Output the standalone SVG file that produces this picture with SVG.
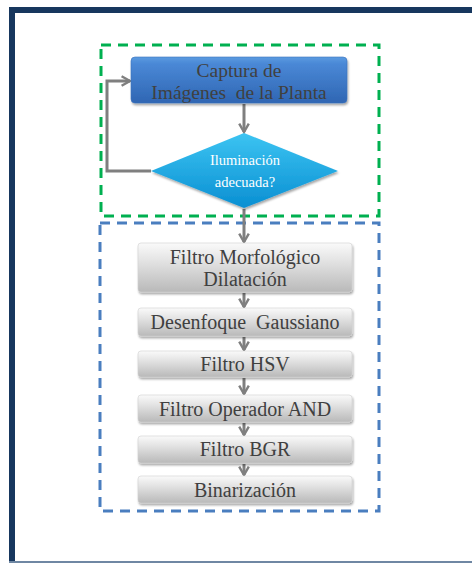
<svg xmlns="http://www.w3.org/2000/svg" width="472" height="563" viewBox="0 0 472 563">
  <defs>
    <linearGradient id="gBlue" x1="0" y1="0" x2="0" y2="1">
      <stop offset="0" stop-color="#5b9be0"/>
      <stop offset="0.15" stop-color="#4a88d6"/>
      <stop offset="1" stop-color="#2f66b3"/>
    </linearGradient>
    <linearGradient id="gCyan" x1="0" y1="0" x2="0" y2="1">
      <stop offset="0" stop-color="#3cc4f2"/>
      <stop offset="1" stop-color="#0a8fd2"/>
    </linearGradient>
    <linearGradient id="gGray" x1="0" y1="0" x2="0" y2="1">
      <stop offset="0" stop-color="#fafafa"/>
      <stop offset="0.35" stop-color="#e4e4e4"/>
      <stop offset="1" stop-color="#b9b9b9"/>
    </linearGradient>
    <filter id="shadow" x="-10%" y="-20%" width="120%" height="150%">
      <feDropShadow dx="1" dy="2" stdDeviation="1.2" flood-color="#000" flood-opacity="0.35"/>
    </filter>
    <marker id="arrow" viewBox="0 0 10 10" refX="8" refY="5" markerWidth="4" markerHeight="4" orient="auto" markerUnits="strokeWidth">
      <path d="M1,1 L8,5 L1,9" fill="none" stroke="#7f7f7f" stroke-width="2"/>
    </marker>
  </defs>
  <style>
    .green { fill: none; stroke: #00b050; stroke-width: 3; stroke-dasharray: 10 7; }
    .blue { fill: none; stroke: #4a7ebf; stroke-width: 3; stroke-dasharray: 10 7; }
    .conn { fill: none; stroke: #7f7f7f; stroke-width: 3; marker-end: url(#arrow); }
    .box { fill: url(#gGray); stroke: #d0d0d0; stroke-width: 0.6; filter: url(#shadow); }
  </style>

  <!-- page frame -->
  <rect x="0" y="0" width="472" height="563" fill="#ffffff"/>
  <rect x="9" y="7" width="463" height="6" fill="#17375e"/>
  <rect x="9" y="7" width="6" height="556" fill="#17375e"/>
  <rect x="9" y="561" width="463" height="2" fill="#6f87a3"/>

  <!-- stage groupings -->
  <rect class="green" x="101" y="45" width="278" height="171"/>
  <rect class="blue" x="100" y="223" width="279" height="288"/>

  <!-- connectors -->
  <g id="connectors">
    <line class="conn" x1="244" y1="104" x2="244" y2="132"/>
    <polyline class="conn" points="151,171 107,171 107,81 130,81"/>
    <line class="conn" x1="244" y1="209" x2="244" y2="242"/>
    <line class="conn" x1="244" y1="293" x2="244" y2="307"/>
    <line class="conn" x1="244" y1="337" x2="244" y2="350"/>
    <line class="conn" x1="244" y1="378" x2="244" y2="394"/>
    <line class="conn" x1="244" y1="423" x2="244" y2="435"/>
    <line class="conn" x1="244" y1="464" x2="244" y2="475"/>
  </g>

  <g id="captura" font-family="Liberation Serif" font-size="19.5" fill="#404040" text-anchor="middle">
    <rect x="131" y="57" width="216" height="46" rx="4" fill="url(#gBlue)" stroke="#3d72bd" stroke-width="0.6" filter="url(#shadow)"/>
    <text x="239" y="77">Captura de</text>
    <text x="239" y="99" xml:space="preserve">Imágenes  de la Planta</text>
  </g>

  <g id="iluminacion" font-family="Liberation Serif" font-size="14.5" fill="#ffffff" text-anchor="middle">
    <polygon points="244,133 338,171 244,208 151,171" fill="url(#gCyan)" filter="url(#shadow)"/>
    <text x="245" y="165">Iluminación</text>
    <text x="245" y="187">adecuada?</text>
  </g>

  <g id="morfologico" font-family="Liberation Serif" font-size="20" fill="#404040" text-anchor="middle">
    <rect class="box" x="138" y="243" width="214" height="49" rx="3"/>
    <text x="245" y="264">Filtro Morfológico</text>
    <text x="245" y="286">Dilatación</text>
  </g>

  <g id="gaussiano" font-family="Liberation Serif" font-size="20" fill="#404040" text-anchor="middle">
    <rect class="box" x="138" y="308" width="214" height="28" rx="3"/>
    <text x="245" y="329" xml:space="preserve">Desenfoque  Gaussiano</text>
  </g>

  <g id="hsv" font-family="Liberation Serif" font-size="20" fill="#404040" text-anchor="middle">
    <rect class="box" x="138" y="351" width="214" height="26" rx="3"/>
    <text x="245" y="371">Filtro HSV</text>
  </g>

  <g id="and" font-family="Liberation Serif" font-size="20" fill="#404040" text-anchor="middle">
    <rect class="box" x="138" y="395" width="214" height="27" rx="3"/>
    <text x="245" y="416">Filtro Operador AND</text>
  </g>

  <g id="bgr" font-family="Liberation Serif" font-size="20" fill="#404040" text-anchor="middle">
    <rect class="box" x="138" y="436" width="214" height="27" rx="3"/>
    <text x="245" y="456">Filtro BGR</text>
  </g>

  <g id="binarizacion" font-family="Liberation Serif" font-size="20" fill="#404040" text-anchor="middle">
    <rect class="box" x="138" y="476" width="214" height="27" rx="3"/>
    <text x="245" y="497">Binarización</text>
  </g>
</svg>
